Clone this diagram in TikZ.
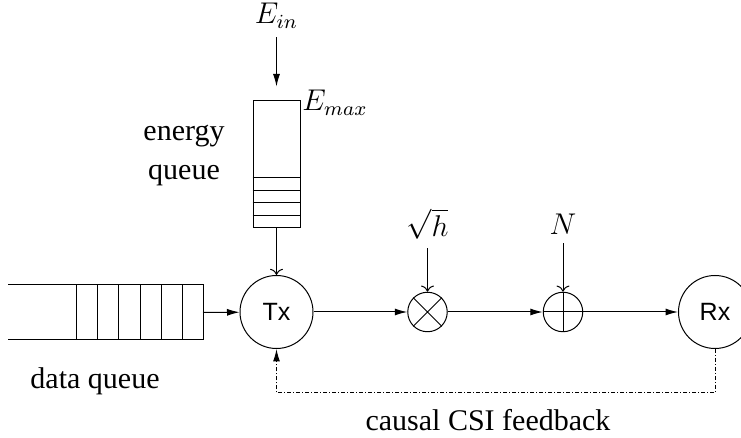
\documentclass[tikz,border=0pt]{standalone}
\usepackage{fontspec}
\setmainfont{Liberation Serif}
\setsansfont{Liberation Sans}
\usetikzlibrary{arrows.meta,calc,positioning}

\begin{document}
\begin{tikzpicture}[x=0.4pt,y=-0.4pt,every node/.style={font=\fontsize{12}{15.6}\selectfont},
 unit/.style={draw,circle,inner sep=0pt,minimum size=29.2pt,font=\sffamily\fontsize{10}{12}\selectfont},
 mix/.style={draw,circle,inner sep=0pt,minimum size=15.8pt},
 buffer/.style={draw,inner sep=0pt,minimum width=18.8pt,minimum height=50.8pt},
 arr/.style={-{Latex[length=5pt,width=2.8pt]}},
 fb/.style={dash pattern=on 1.6pt off 0.8pt on 0.4pt off 0.8pt}]
\clip (0,0) rectangle (741,438);
% data queue
\draw (8,285) -- (203,285) -- (203,340) -- (8,340);
\foreach \x in {76,97,118,140,161,182}
  {\draw (\x,285) -- (\x,340);}
\coordinate (dq) at (203,312.5);
\node (dqlabel) at (95,381) {data queue};
% energy queue
\node[buffer] (eq) at (276.5,164.5) {};
\foreach \y in {178,190.5,203,215.5}
  {\draw (eq.west |- 0,\y) -- (eq.east |- 0,\y);}
\node (ein) at (276.5,16) {$E_{in}$};
\node (emax) at (335,103) {$E_{max}$};
\node[align=center] (eqlabel) at (184,156) {energy\\queue};
% channel
\node[unit] (tx) at (276.5,312) {Tx};
\node[mix] (mul) at (427.5,312) {};
\draw (mul.45) -- (mul.225) (mul.135) -- (mul.-45);
\node[mix] (add) at (563,312) {};
\draw (add.north) -- (add.south) (add.west) -- (add.east);
\node[unit] (rx) at (715,312) {Rx};
\node (h) at (427.5,224) {$\sqrt{h}$};
\node (n) at (563,224) {$N$};
\draw[arr] (dq) -- (tx);
\draw[arr] (tx) -- (mul);
\draw[arr] (mul) -- (add);
\draw[arr] (add) -- (rx);
\draw[arr,shorten >=5.6pt] (ein) -- (eq);
\draw[->] (eq) -- (tx);
\draw[->] (h) -- (mul);
\draw[->] (n) -- (add);
% feedback
\coordinate (fbcorner) at (276.5,393);
\draw[fb,arr] (rx) |- (fbcorner) -- (tx);
\node (fblabel) at (488,420) {causal CSI feedback};
\end{tikzpicture}
\end{document}
